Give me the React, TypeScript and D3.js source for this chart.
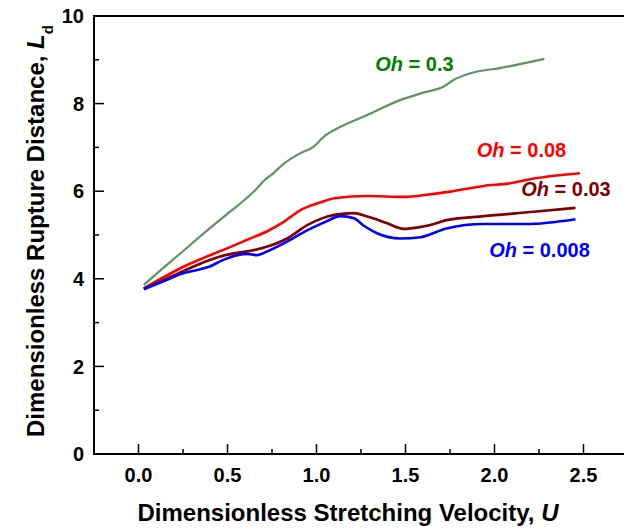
import { useRef, useEffect } from "react"
import * as d3 from "d3"

// U, Ld pairs
const greenU = [0.03, 0.12, 0.23, 0.33, 0.42, 0.52, 0.61, 0.66, 0.7, 0.76, 0.82, 0.91, 0.985, 1.04, 1.135, 1.285, 1.47, 1.6, 1.715, 1.77, 1.88, 2.03, 2.28]
const greenL = [3.86, 4.18, 4.56, 4.91, 5.22, 5.55, 5.85, 6.04, 6.22, 6.42, 6.64, 6.87, 7.02, 7.24, 7.47, 7.74, 8.08, 8.25, 8.39, 8.54, 8.71, 8.81, 9.02]

const redU = [0.03, 0.255, 0.5, 0.61, 0.72, 0.816, 0.91, 1.02, 1.1, 1.285, 1.49, 1.62, 1.75, 1.94, 2.09, 2.22, 2.35, 2.48]
const redL = [3.78, 4.28, 4.7, 4.89, 5.08, 5.3, 5.57, 5.74, 5.84, 5.89, 5.87, 5.92, 5.99, 6.12, 6.18, 6.29, 6.36, 6.41]

const maroonU = [0.03, 0.2, 0.35, 0.45, 0.535, 0.63, 0.72, 0.835, 0.95, 1.03, 1.1, 1.21, 1.285, 1.39, 1.49, 1.58, 1.66, 1.73, 1.94, 2.22, 2.455]
const maroonL = [3.78, 4.08, 4.35, 4.5, 4.58, 4.64, 4.73, 4.92, 5.23, 5.38, 5.46, 5.5, 5.42, 5.28, 5.14, 5.18, 5.25, 5.34, 5.43, 5.53, 5.62]

const blueU = [0.03, 0.15, 0.255, 0.33, 0.4, 0.47, 0.555, 0.61, 0.667, 0.72, 0.835, 0.95, 1.05, 1.135, 1.21, 1.27, 1.34, 1.47, 1.585, 1.73, 1.94, 2.18, 2.455]
const blueL = [3.76, 3.96, 4.13, 4.2, 4.28, 4.42, 4.54, 4.57, 4.54, 4.62, 4.85, 5.11, 5.3, 5.43, 5.38, 5.2, 5.04, 4.92, 4.95, 5.15, 5.25, 5.25, 5.36]

const seriesNames = ["0.3", "0.08", "0.03", "0.008"]
const lineColors = ["#5f935f", "#ff0000", "#800000", "#0000ff"]
const labelColors = ["#008000", "#ff0000", "#800000", "#0000ff"]
// label anchor in data units (U, Ld)
const labelU = [1.33, 1.9, 2.15, 1.97]
const labelL = [8.75, 6.77, 5.9, 4.5]

const xTicks = [0, 0.5, 1, 1.5, 2, 2.5]
const yTicks = [0, 2, 4, 6, 8, 10]

const FONT = "'Liberation Sans', Arial, sans-serif"

export default function App() {
  const svgRef = useRef<SVGSVGElement>(null)

  useEffect(() => {
    const svg = d3.select(svgRef.current)
    svg.selectAll("*").remove()

    const x = d3.scaleLinear().domain([-0.25, 2.75]).range([94, 628])
    const y = d3.scaleLinear().domain([0, 10]).range([454, 16])

    const g = svg.append("g").style("font-family", FONT)

    // frame
    g.append("rect")
      .attr("x", x(-0.25))
      .attr("y", y(10))
      .attr("width", x(2.75) - x(-0.25))
      .attr("height", y(0) - y(10))
      .attr("fill", "none")
      .attr("stroke", "#000")
      .attr("stroke-width", 2)

    // ticks, pointing inward
    const minorX = d3.range(-0.25, 2.76, 0.25).filter((v) => Math.abs(v * 2 - Math.round(v * 2)) > 0.01)
    const minorY = d3.range(1, 10, 2)
    xTicks.forEach((t) => {
      g.append("line").attr("x1", x(t)).attr("x2", x(t)).attr("y1", y(0)).attr("y2", y(0) - 10).attr("stroke", "#000").attr("stroke-width", 1.5)
      g.append("text")
        .attr("x", x(t))
        .attr("y", 482)
        .attr("text-anchor", "middle")
        .style("font-size", "20px")
        .style("font-weight", "bold")
        .text(d3.format(".1f")(t))
    })
    minorX.forEach((t) => {
      g.append("line").attr("x1", x(t)).attr("x2", x(t)).attr("y1", y(0)).attr("y2", y(0) - 5).attr("stroke", "#000").attr("stroke-width", 1.5)
    })
    yTicks.forEach((t) => {
      g.append("line").attr("x1", x(-0.25)).attr("x2", x(-0.25) + 10).attr("y1", y(t)).attr("y2", y(t)).attr("stroke", "#000").attr("stroke-width", 1.5)
      g.append("text")
        .attr("x", 84)
        .attr("y", y(t))
        .attr("dy", "0.36em")
        .attr("text-anchor", "end")
        .style("font-size", "20px")
        .style("font-weight", "bold")
        .text(t)
    })
    minorY.forEach((t) => {
      g.append("line").attr("x1", x(-0.25)).attr("x2", x(-0.25) + 5).attr("y1", y(t)).attr("y2", y(t)).attr("stroke", "#000").attr("stroke-width", 1.5)
    })

    // axis titles
    const xt = g.append("text")
      .attr("x", 348)
      .attr("y", 521)
      .attr("text-anchor", "middle")
      .style("font-size", "24px")
      .style("font-weight", "bold")
    xt.append("tspan").text("Dimensionless Stretching Velocity, ")
    xt.append("tspan").style("font-style", "italic").text("U")

    const yt = g.append("text")
      .attr("transform", "translate(44,231) rotate(-90)")
      .attr("text-anchor", "middle")
      .style("font-size", "24px")
      .style("font-weight", "bold")
    yt.append("tspan").text("Dimensionless Rupture Distance, ")
    yt.append("tspan").style("font-style", "italic").text("L")
    yt.append("tspan").attr("baseline-shift", "sub").style("font-size", "15px").text("d")

    // curves
    const allU = [greenU, redU, maroonU, blueU]
    const allL = [greenL, redL, maroonL, blueL]
    const line = d3
      .line<[number, number]>()
      .x((d) => x(d[0]))
      .y((d) => y(d[1]))
      .curve(d3.curveMonotoneX)

    allU.forEach((us, i) => {
      const pts: [number, number][] = us.map((u, j) => [u, allL[i][j]])
      g.append("path")
        .datum(pts)
        .attr("fill", "none")
        .attr("stroke", lineColors[i])
        .attr("stroke-width", i === 0 ? 2.2 : 2.6)
        .attr("d", line)
    })

    // series labels
    seriesNames.forEach((name, i) => {
      const t = g.append("text")
        .attr("x", x(labelU[i]))
        .attr("y", y(labelL[i]))
        .attr("fill", labelColors[i])
        .style("font-size", "20px")
        .style("font-weight", "bold")
      t.append("tspan").style("font-style", "italic").text("Oh")
      t.append("tspan").text(" = " + name)
    })
  }, [])

  return (
    <svg
      ref={svgRef}
      width={624}
      height={531}
      style={{ position: "absolute", left: 0, top: 0, background: "#fff" }}
    />
  )
}
